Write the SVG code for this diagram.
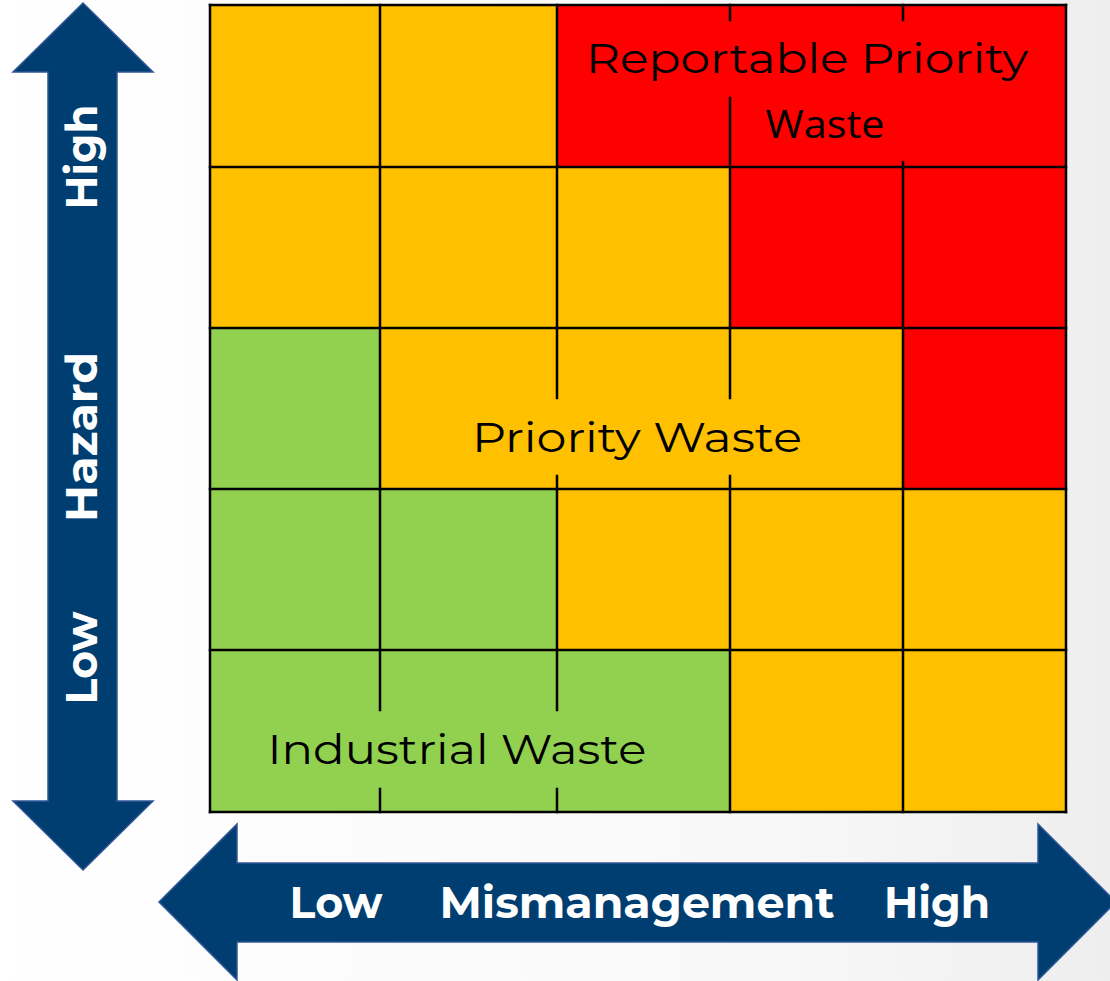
<svg xmlns="http://www.w3.org/2000/svg" width="1110" height="981" viewBox="0 0 1110 981">
<defs>
<linearGradient id="bg" x1="0" y1="0" x2="1" y2="0">
<stop offset="0" stop-color="#ffffff"/>
<stop offset="0.7" stop-color="#f8f8f8"/>
<stop offset="1" stop-color="#eeeeee"/>
</linearGradient>
<style>
.o{fill:#FFC000}
.r{fill:#FF0000}
.g{fill:#92D050}
.ln{stroke:#000;stroke-width:2.5;fill:none;stroke-linecap:square}
.arrow{fill:#003E71;stroke:#2F5597;stroke-width:1.5}
.ax{font-family:Montserrat,"Noto Sans","Liberation Sans",sans-serif;font-weight:bold;font-size:44px;fill:#fff;text-anchor:middle}
.lb{font-family:Montserrat,"Noto Sans","Liberation Sans",sans-serif;font-size:42px;fill:#000;text-anchor:middle}
.lb2{font-family:"Open Sans","Liberation Sans",sans-serif;font-size:39px;fill:#000;text-anchor:middle}
</style>
</defs>
<rect width="1110" height="981" fill="url(#bg)"/>
<g id="cells">
<rect class="o" x="210" y="5" width="170" height="162"/>
<rect class="o" x="380" y="5" width="177" height="162"/>
<rect class="r" x="557" y="5" width="509" height="162"/>
<rect class="o" x="210" y="167" width="170" height="161"/>
<rect class="o" x="380" y="167" width="177" height="161"/>
<rect class="o" x="557" y="167" width="173" height="161"/>
<rect class="r" x="730" y="167" width="173" height="161"/>
<rect class="r" x="903" y="167" width="163" height="161"/>
<rect class="g" x="210" y="328" width="170" height="161"/>
<rect class="o" x="380" y="328" width="523" height="161"/>
<rect class="r" x="903" y="328" width="163" height="161"/>
<rect class="g" x="210" y="489" width="170" height="161"/>
<rect class="g" x="380" y="489" width="177" height="161"/>
<rect class="o" x="557" y="489" width="173" height="161"/>
<rect class="o" x="730" y="489" width="173" height="161"/>
<rect class="o" x="903" y="489" width="163" height="161"/>
<rect class="g" x="210" y="650" width="520" height="162"/>
<rect class="o" x="730" y="650" width="173" height="162"/>
<rect class="o" x="903" y="650" width="163" height="162"/>
</g>
<g id="gridlines" class="ln">
<path d="M210,5H1066M210,167H1066M210,328H1066M210,489H1066M210,650H1066M210,812H1066"/>
<path d="M210,5V812M1066,5V812"/>
<path d="M380,5V710M380,789V812"/>
<path d="M557,5V398M557,476V710M557,789V812"/>
<path d="M730,5V20M730,98V398M730,476V812"/>
<path d="M903,5V20M903,162V812"/>
</g>
<g id="labels">
<text class="lb" x="807" y="73" textLength="442" lengthAdjust="spacingAndGlyphs">Reportable Priority</text>
<text class="lb2" x="825" y="138" textLength="119" lengthAdjust="spacingAndGlyphs">Waste</text>
<text class="lb" x="637" y="452" textLength="330" lengthAdjust="spacingAndGlyphs">Priority Waste</text>
<text class="lb" x="457" y="764" textLength="379" lengthAdjust="spacingAndGlyphs">Industrial Waste</text>
</g>
<g id="hazard-axis">
<path class="arrow" d="M83,3L153,72L117,72L117,801L153,801L83,870L13,801L48,801L48,72L13,72Z"/>
<text class="ax" transform="translate(97,157) rotate(-90)" textLength="105" lengthAdjust="spacingAndGlyphs">High</text>
<text class="ax" transform="translate(97,437) rotate(-90)" textLength="170" lengthAdjust="spacingAndGlyphs">Hazard</text>
<text class="ax" transform="translate(97,658) rotate(-90)" textLength="93" lengthAdjust="spacingAndGlyphs">Low</text>
</g>
<g id="mismanagement-axis">
<path class="arrow" d="M159,902L237,824L237,863L1038,863L1038,824L1116,902L1038,980L1038,942L237,942L237,980Z"/>
<text class="ax" x="336" y="918" textLength="93" lengthAdjust="spacingAndGlyphs">Low</text>
<text class="ax" x="637" y="918" textLength="395" lengthAdjust="spacingAndGlyphs">Mismanagement</text>
<text class="ax" x="937" y="918" textLength="106" lengthAdjust="spacingAndGlyphs">High</text>
</g>
</svg>
